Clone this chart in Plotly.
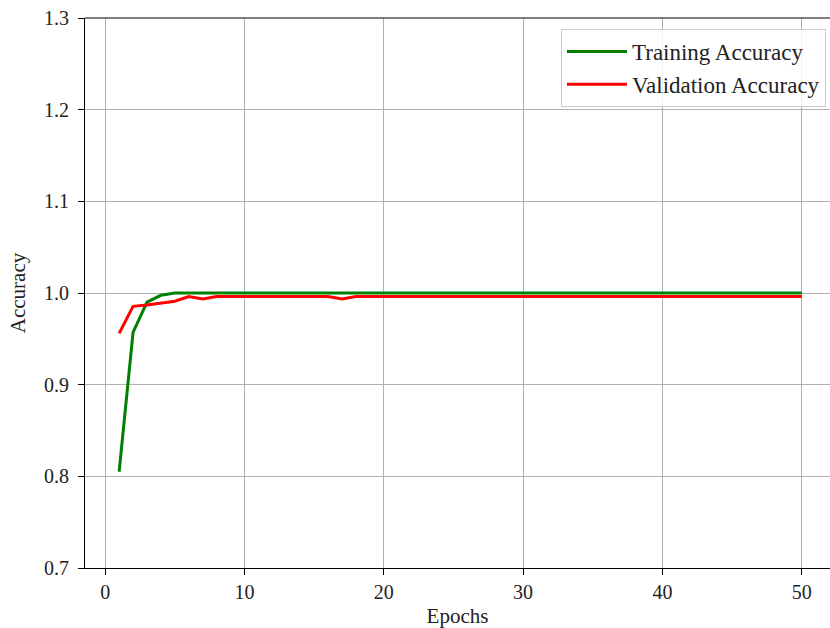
import plotly.graph_objects as go

epochs = list(range(1, 51))
train_acc = [0.805, 0.957, 0.990, 0.9975, 1.0] + [1.0] * 45
val_acc = ([0.956, 0.9855, 0.987, 0.989, 0.991, 0.9962, 0.9935]
           + [0.9962] * 9 + [0.9935] + [0.9962] * 33)

x_ticks = [0, 10, 20, 30, 40, 50]
y_ticks = [0.7, 0.8, 0.9, 1.0, 1.1, 1.2, 1.3]

FONT = "Liberation Serif, Times New Roman, serif"

fig = go.Figure()
fig.add_trace(go.Scatter(x=epochs, y=train_acc, mode="lines", name="Training Accuracy",
                         line=dict(color="#008000", width=3)))
fig.add_trace(go.Scatter(x=epochs, y=val_acc, mode="lines", name="Validation Accuracy",
                         line=dict(color="#ff0000", width=3)))

axis_common = dict(showgrid=True, gridcolor="#b0b0b0", gridwidth=1,
                   showline=True, linecolor="black", linewidth=1.2,
                   ticks="outside", ticklen=6, tickcolor="black", tickwidth=1,
                   tickfont=dict(family=FONT, size=20, color="#222"), zeroline=False,
                   ticklabeloverflow="allow")

fig.update_xaxes(range=[-1.45, 52.03], tickvals=x_ticks, mirror=False,
                 title=dict(text="Epochs", font=dict(family=FONT, size=21, color="#222"), standoff=8),
                 **axis_common)
fig.update_yaxes(range=[0.7, 1.3], tickvals=y_ticks, tickformat=".1f", ticklabelstandoff=5,
                 title=dict(text="Accuracy", font=dict(family=FONT, size=21, color="#222"), standoff=12),
                 **axis_common)

# top spine
fig.add_shape(type="line", xref="paper", yref="paper", x0=0, x1=1, y0=1, y1=1,
              line=dict(color="black", width=1.2))

fig.update_layout(
    width=830, height=628,
    margin=dict(l=85, r=0, t=18, b=60),
    plot_bgcolor="white", paper_bgcolor="white",
    font=dict(family=FONT, color="#222"),
    legend=dict(x=0.9946, y=0.98, xanchor="right", yanchor="top",
                bgcolor="rgba(255,255,255,0.8)", bordercolor="#cccccc", borderwidth=1,
                font=dict(family=FONT, size=23, color="#222"), itemwidth=60,
                tracegroupgap=0),
    showlegend=True,
)

fig.write_html("out.html", config={"displayModeBar": False},
               post_script="document.body.style.margin='0';document.body.style.overflow='hidden';")
